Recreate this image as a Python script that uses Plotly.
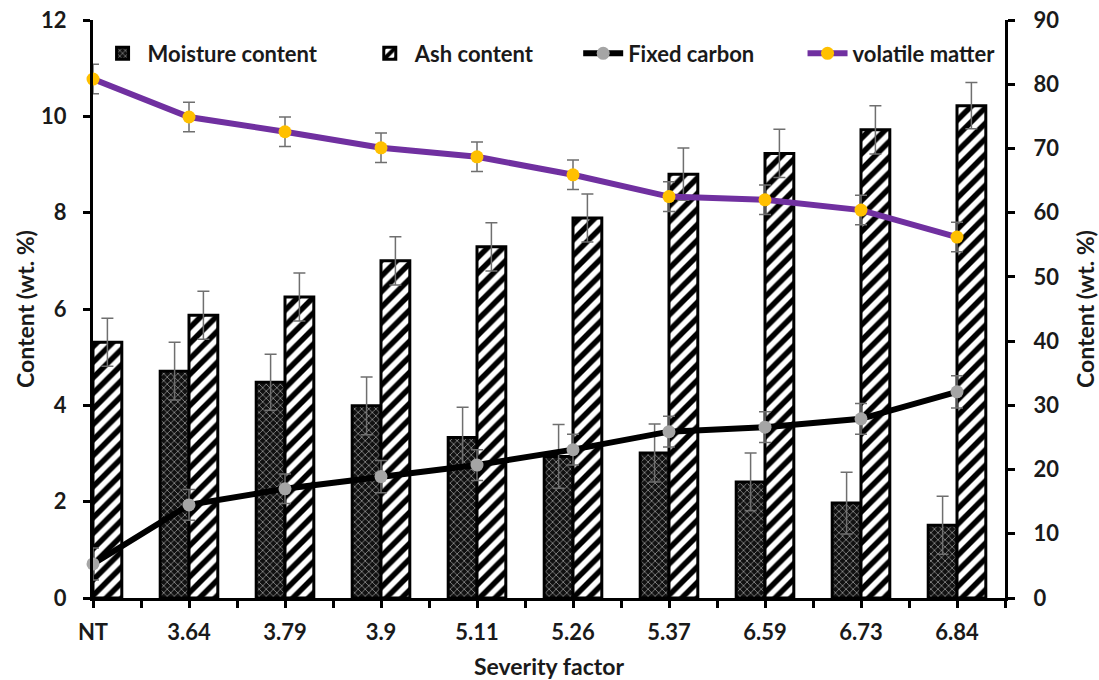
import plotly.graph_objects as go

# Severity factor categories (NT = not treated)
categories = ["NT", "3.64", "3.79", "3.9", "5.11", "5.26", "5.37", "6.59", "6.73", "6.84"]

# Left axis (wt. %)
moisture = [None, 4.71, 4.48, 3.99, 3.33, 2.94, 3.01, 2.41, 1.97, 1.51]
moisture_err = [None, 0.60, 0.58, 0.60, 0.63, 0.66, 0.60, 0.60, 0.64, 0.60]
ash = [5.31, 5.87, 6.25, 7.00, 7.29, 7.89, 8.80, 9.23, 9.72, 10.22]
ash_err = [0.50, 0.50, 0.50, 0.50, 0.50, 0.50, 0.54, 0.50, 0.50, 0.48]

# Right axis (wt. %)
fixed_carbon = [5.3, 14.5, 17.0, 18.9, 20.7, 23.1, 25.9, 26.6, 27.9, 32.1]
fixed_carbon_err = [2.5, 2.4, 2.3, 2.5, 2.4, 2.4, 2.4, 2.4, 2.4, 2.5]
volatile = [80.8, 74.9, 72.6, 70.1, 68.7, 65.9, 62.5, 62.0, 60.4, 56.2]
volatile_err = [2.3, 2.3, 2.3, 2.3, 2.3, 2.3, 2.3, 2.3, 2.3, 2.3]

idx = list(range(len(categories)))

FONT = "Lato"
ERR_COLOR = "#6f6f6f"
tick_font = dict(family=FONT, size=22, color="#1a1a1a", weight="bold")
legend_font = dict(family=FONT, size=22, color="#1a1a1a", weight="bold")
title_font = dict(family=FONT, size=23, color="#1a1a1a", weight="bold")

fig = go.Figure()

fig.add_trace(go.Bar(
    x=idx, y=moisture, width=0.3, offset=-0.3, name="Moisture content",
    marker=dict(color="black", line=dict(color="black", width=3),
                pattern=dict(shape="x", fgcolor="#f4f4f4", bgcolor="#111111",
                             size=5, solidity=0.32)),
    error_y=dict(type="data", array=moisture_err, color=ERR_COLOR,
                 thickness=1.5, width=6),
    legend="legend",
))

fig.add_trace(go.Bar(
    x=idx, y=ash, width=0.3, offset=0, name="Ash content",
    marker=dict(color="white", line=dict(color="black", width=3),
                pattern=dict(shape="/", fgcolor="black", bgcolor="white",
                             size=11, solidity=0.5, fgopacity=1)),
    error_y=dict(type="data", array=ash_err, color=ERR_COLOR,
                 thickness=1.5, width=6),
    legend="legend2",
))

fig.add_trace(go.Scatter(
    x=idx, y=fixed_carbon, yaxis="y2", mode="lines+markers", name="Fixed carbon",
    line=dict(color="black", width=6),
    marker=dict(color="#a5a5a5", size=13),
    error_y=dict(type="data", array=fixed_carbon_err, color=ERR_COLOR,
                 thickness=1.5, width=6),
    cliponaxis=False,
    legend="legend3",
))

fig.add_trace(go.Scatter(
    x=idx, y=volatile, yaxis="y2", mode="lines+markers", name="volatile matter",
    line=dict(color="#7030a0", width=6),
    marker=dict(color="#ffc000", size=13),
    error_y=dict(type="data", array=volatile_err, color=ERR_COLOR,
                 thickness=1.5, width=6),
    cliponaxis=False,
    legend="legend4",
))

axis_common = dict(
    showline=True, linecolor="black", linewidth=3,
    ticks="outside", tickcolor="black", tickwidth=3, ticklen=7,
    showgrid=False, zeroline=False, tickfont=tick_font, automargin=False,
)

legend_common = dict(
    orientation="h", yanchor="middle", y=0.942, xanchor="left",
    bgcolor="rgba(0,0,0,0)", font=legend_font, itemwidth=40,
)

fig.update_layout(
    width=1099, height=680,
    margin=dict(l=93, r=94, t=20, b=82, autoexpand=False),
    paper_bgcolor="white", plot_bgcolor="white",
    barmode="overlay",
    showlegend=True,
    xaxis=dict(
        **axis_common, range=[0, 9.5],
        tickvals=idx, ticktext=categories, ticklabelstandoff=6,
        minor=dict(dtick=0.5, tick0=0, ticks="outside", ticklen=7,
                   tickwidth=3, tickcolor="black"),
        title=dict(text="Severity factor", font=title_font, standoff=18),
    ),
    yaxis=dict(
        **axis_common, range=[0, 12], dtick=2, ticklabelstandoff=12,
        title=dict(text="Content (wt. %)", font=title_font, standoff=1),
    ),
    yaxis2=dict(
        **axis_common, range=[0, 90], dtick=10, overlaying="y", side="right",
        ticklabelstandoff=14,
        title=dict(text="Content (wt. %)", font=title_font, standoff=24),
    ),
    legend=dict(**legend_common, x=0.005),
    legend2=dict(**legend_common, x=0.298),
    legend3=dict(**legend_common, x=0.532),
    legend4=dict(**legend_common, x=0.778),
)

fig.write_html("out.html")
